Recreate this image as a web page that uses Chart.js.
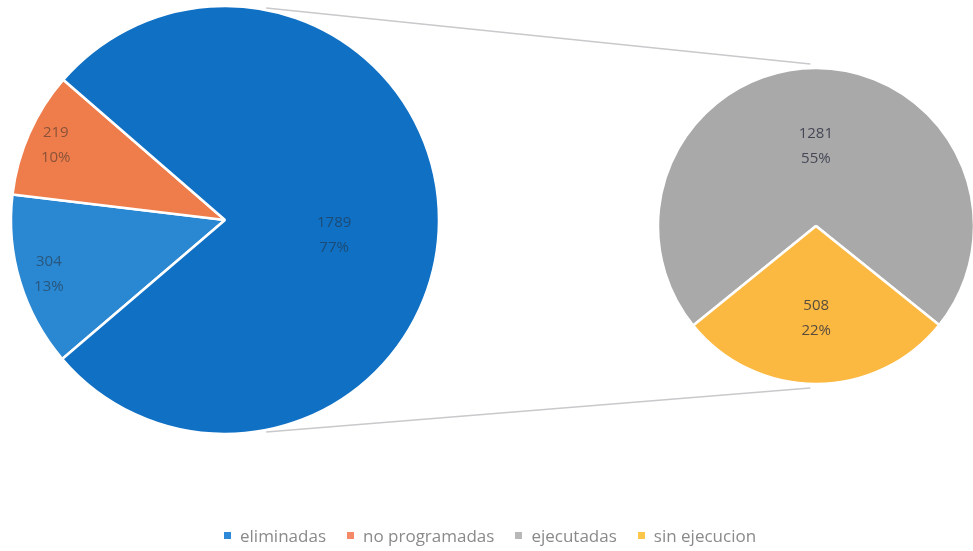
<!DOCTYPE html>
<html>
<head>
<meta charset="utf-8">
<script src="https://cdn.jsdelivr.net/npm/chart.js@4.4.0/dist/chart.umd.min.js"></script>
<style>
  body { margin: 0; background: #fff; }
  #wrap { position: relative; width: 973px; height: 551px; }
  #wrap canvas { position: absolute; left: 0; top: 0; }
  #legend {
    position: absolute; left: 224px; top: 524px;
    font-family: "Open Sans", sans-serif; font-size: 17px; color: #8a8a8a;
    white-space: nowrap;
  }
  #legend span.item { display: inline-block; margin-right: 21px; }
  #legend span.box { display: inline-block; width: 7px; height: 7px; margin-right: 9px; vertical-align: 3px; }
</style>
</head>
<body>
<div id="wrap">
  <canvas id="mainChart" width="973" height="551"></canvas>
  <canvas id="subChart" width="973" height="551"></canvas>
  <div id="legend"></div>
</div>
<script>
// datos
const mainLabels = ["eliminadas", "no programadas", "otros"];
const mainValues = [304, 219, 1789];
const mainPct = ["13%", "10%", "77%"];

const subLabels = ["ejecutadas", "sin ejecucion"];
const subValues = [1281, 508];
const subPct = ["55%", "22%"];

const legendLabels = ["eliminadas", "no programadas", "ejecutadas", "sin ejecucion"];

// estilos
const mainColors = ["#2a87d2", "#ee7d4b", "#1070c4"];
const subColors = ["#a9a9aa", "#fcb942"];
const legendColors = ["#2e8ad8", "#f48a68", "#b8b8b8", "#fcc64a"];

// etiquetas dentro de las porciones
const labelPlugin = {
  id: "sliceLabels",
  afterDatasetsDraw(chart, args, opts) {
    const ctx = chart.ctx;
    const meta = chart.getDatasetMeta(0);
    const ds = chart.data.datasets[0];
    ctx.save();
    ctx.font = "15px 'Open Sans', sans-serif";
    ctx.textAlign = "center";
    ctx.textBaseline = "middle";
    ctx.fillStyle = opts.color;
    meta.data.forEach((arc, i) => {
      const p = arc.getProps(["x", "y", "startAngle", "endAngle", "outerRadius"]);
      const mid = (p.startAngle + p.endAngle) / 2;
      const r = p.outerRadius * opts.frac[i];
      const cx = p.x + Math.cos(mid) * r;
      const cy = p.y + Math.sin(mid) * r + (opts.dy ? opts.dy[i] : 0);
      ctx.fillText(String(ds.data[i]), cx, cy - 12);
      ctx.fillText(opts.pct[i], cx, cy + 13);
    });
    ctx.restore();
  }
};

const mainChart = new Chart(document.getElementById("mainChart"), {
  type: "pie",
  data: {
    labels: mainLabels,
    datasets: [{
      data: mainValues,
      backgroundColor: mainColors,
      borderColor: "#ffffff",
      borderWidth: 2.5
    }]
  },
  options: {
    responsive: false,
    animation: false,
    devicePixelRatio: 1,
    rotation: 229.5,
    radius: 214,
    layout: { padding: { left: 0, top: 0, right: 523, bottom: 111 } },
    plugins: {
      legend: { display: false },
      tooltip: { enabled: false },
      sliceLabels: { color: "rgba(40,40,40,0.5)", pct: mainPct, frac: [0.86, 0.865, 0.51], dy: [0, 0, 14] }
    }
  },
  plugins: [labelPlugin]
});

// lineas que unen las dos tortas
const connectorPlugin = {
  id: "connectors",
  afterDraw(chart) {
    const a = mainChart.getDatasetMeta(0).data[0].getProps(["x", "y", "outerRadius"]);
    const b = chart.getDatasetMeta(0).data[0].getProps(["x", "y", "outerRadius"]);
    const ctx = chart.ctx;
    const startAng = 79 * Math.PI / 180;
    const endAng = 92 * Math.PI / 180;
    ctx.save();
    ctx.strokeStyle = "#c9c9cc";
    ctx.lineWidth = 1.5;
    [-1, 1].forEach(s => {
      ctx.beginPath();
      ctx.moveTo(a.x + Math.cos(startAng) * (a.outerRadius + 2), a.y + s * Math.sin(startAng) * (a.outerRadius + 2));
      ctx.lineTo(b.x + Math.cos(endAng) * (b.outerRadius + 4), b.y + s * Math.sin(endAng) * (b.outerRadius + 4));
      ctx.stroke();
    });
    ctx.restore();
  }
};

new Chart(document.getElementById("subChart"), {
  type: "pie",
  data: {
    labels: subLabels,
    datasets: [{
      data: subValues,
      backgroundColor: subColors,
      borderColor: "#ffffff",
      borderWidth: 2.5
    }]
  },
  options: {
    responsive: false,
    animation: false,
    devicePixelRatio: 1,
    rotation: 231,
    radius: 158,
    layout: { padding: { left: 660, top: 68, right: 1, bottom: 167 } },
    plugins: {
      legend: { display: false },
      tooltip: { enabled: false },
      sliceLabels: { color: "rgba(40,44,60,0.78)", pct: subPct, frac: [0.51, 0.58] }
    }
  },
  plugins: [labelPlugin, connectorPlugin]
});

// leyenda
document.getElementById("legend").innerHTML = legendLabels.map((l, i) =>
  `<span class="item"><span class="box" style="background:${legendColors[i]}"></span>${l}</span>`
).join("");
</script>
</body>
</html>
